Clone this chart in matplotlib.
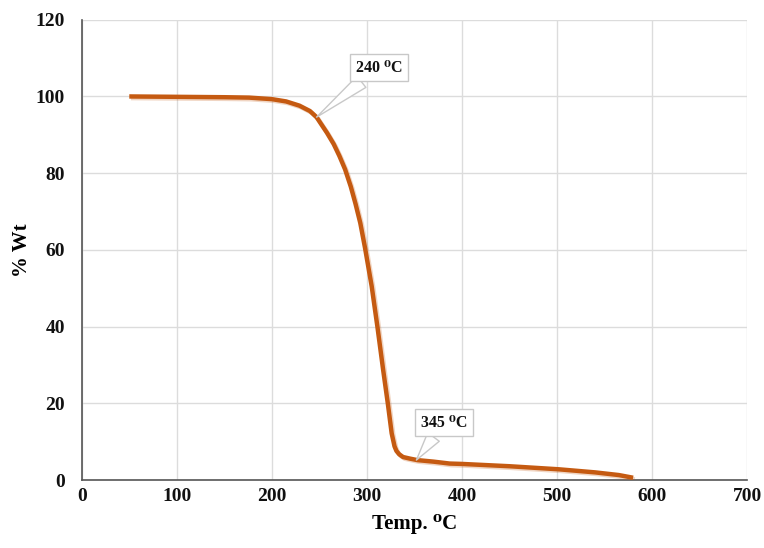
"""TGA curve: % weight vs temperature, with two callout labels."""

import matplotlib
matplotlib.use("Agg")
import matplotlib.pyplot as plt
import matplotlib.patheffects as pe

# values
temp = [50, 100, 150, 176, 200, 215, 229, 240, 247, 258, 265, 271, 277,
        283, 288, 293, 298, 305, 311, 317, 322, 326, 329, 331, 334, 338,
        345, 353, 370, 387, 400, 450, 502, 540, 565, 580]
wt = [100, 99.9, 99.8, 99.7, 99.3, 98.7, 97.6, 96.2, 94.6, 90.5, 87.6,
      84.5, 81.0, 76.5, 72.0, 67.0, 60.5, 50.5, 40.0, 28.8, 19.9, 12.2,
      8.8, 7.6, 6.7, 6.0, 5.6, 5.2, 4.8, 4.3, 4.2, 3.6, 2.8, 2.0, 1.3, 0.6]

callout_text = ["240 \u2070C", "345 \u2070C"]
callout_tip = [(247, 94.6), (352, 5.2)]
callout_box = [(313, 107.5), (381, 14.9)]

xticks = [0, 100, 200, 300, 400, 500, 600, 700]
yticks = [0, 20, 40, 60, 80, 100, 120]

FONT = ["Liberation Serif", "DejaVu Serif"]
plt.rcParams["font.family"] = FONT
plt.rcParams["font.weight"] = "bold"

fig = plt.figure(figsize=(7.64, 5.48), dpi=100)
ax = fig.add_axes([0.107, 0.124, 0.871, 0.84])

ax.plot(temp, wt, color="#C55A11", lw=3.2, solid_capstyle="butt",
        solid_joinstyle="round",
        path_effects=[pe.SimpleLineShadow(offset=(1.2, -1.2), alpha=0.25,
                                          shadow_color="#C55A11"),
                      pe.Normal()], zorder=3)

for txt, tip, box in zip(callout_text, callout_tip, callout_box):
    ax.annotate(txt, xy=tip, xytext=box, ha="center", va="center",
                fontsize=11.5, fontweight="bold", color="#111111",
                bbox=dict(boxstyle="square,pad=0.35", fc="white",
                          ec="#c8c8c8", lw=1),
                arrowprops=dict(arrowstyle="wedge,tail_width=0.9",
                                fc="white", ec="#c8c8c8", lw=1,
                                shrinkA=0, shrinkB=0),
                zorder=4)

ax.set_xlim(0, 700)
ax.set_ylim(0, 120)
ax.set_xticks(xticks)
ax.set_yticks(yticks)
ax.grid(True, color="#dcdcdc", lw=1)
ax.set_axisbelow(True)
ax.tick_params(length=0, labelsize=14, colors="#111111")
ax.tick_params(axis="y", pad=12)
ax.tick_params(axis="x", pad=6)
for lbl in ax.get_xticklabels() + ax.get_yticklabels():
    lbl.set_fontweight("bold")

for side in ["top", "right"]:
    ax.spines[side].set_visible(False)
for side in ["left", "bottom"]:
    ax.spines[side].set_color("#555555")
    ax.spines[side].set_linewidth(1.2)

ax.set_xlabel("Temp. \u2070C", fontsize=15, fontweight="bold", labelpad=6)
ax.set_ylabel("% Wt", fontsize=15, fontweight="bold", labelpad=3)

fig.savefig("out.png", dpi=100)
